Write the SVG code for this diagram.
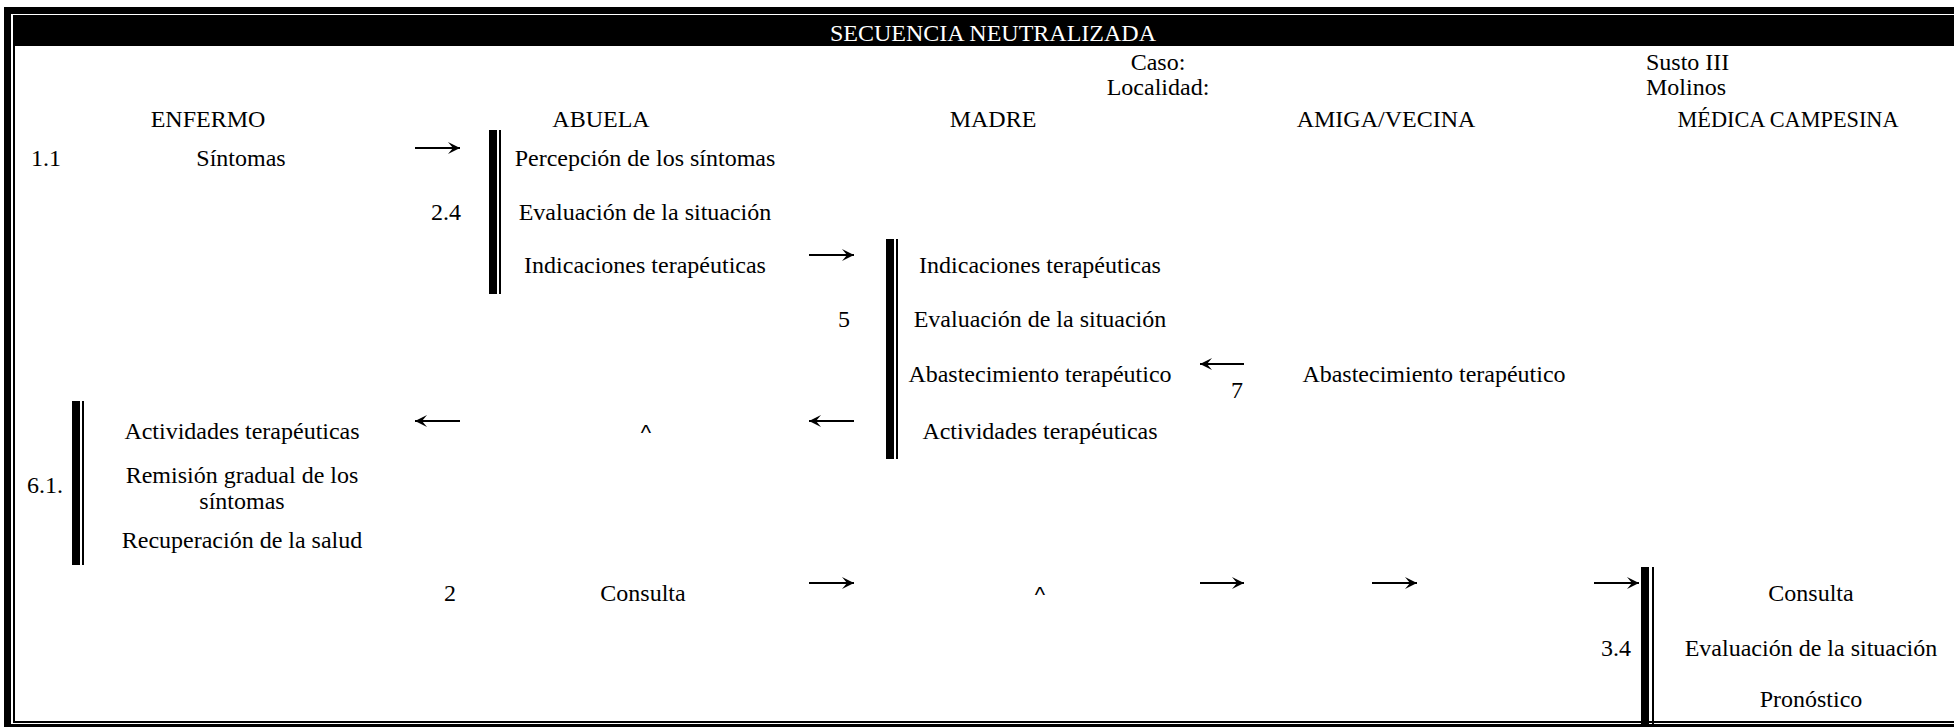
<svg xmlns="http://www.w3.org/2000/svg" width="1954" height="727" viewBox="0 0 1954 727">
<style>
text{font-family:"Liberation Serif","Times New Roman",serif;font-size:24px;fill:#000}
.c{text-anchor:middle}
.t{fill:#fff}
.caret{font-family:"Liberation Sans",Arial,sans-serif;font-size:22px}
.arr{stroke:#000;stroke-width:2;fill:none;marker-end:url(#ah)}
.bar{fill:#000}
</style>
<defs>
<marker id="ah" viewBox="0 0 14 14" refX="13" refY="7" markerWidth="14" markerHeight="14" markerUnits="userSpaceOnUse" orient="auto">
<path d="M1,1 L13,7 L1,13 L6,7 Z" fill="#000"/>
</marker>
</defs>
<g id="frame">
<rect x="7.5" y="10.5" width="1960" height="717" fill="none" stroke="#000" stroke-width="7"/>
<rect x="14" y="16" width="1960" height="706" fill="none" stroke="#000" stroke-width="2"/>
<rect x="13" y="16" width="1945" height="30" fill="#000"/>
<text class="c t" x="993" y="41">SECUENCIA NEUTRALIZADA</text>
</g>
<g id="header">
<text class="c" x="1158" y="70">Caso:</text>
<text class="c" x="1158" y="95">Localidad:</text>
<text x="1646" y="70">Susto III</text>
<text x="1646" y="95">Molinos</text>
<text class="c" x="208" y="127">ENFERMO</text>
<text class="c" x="601" y="127">ABUELA</text>
<text class="c" x="993" y="127">MADRE</text>
<text class="c" x="1386" y="127">AMIGA/VECINA</text>
<text class="c" x="1788" y="127" textLength="221" lengthAdjust="spacingAndGlyphs">MÉDICA CAMPESINA</text>
</g>
<g id="enfermo-sintomas">
<text x="31" y="166">1.1</text>
<text class="c" x="241" y="166">Síntomas</text>
</g>
<g id="abuela-block">
<rect class="bar" x="489" y="130" width="8" height="164"/>
<rect class="bar" x="499" y="130" width="2" height="164"/>
<text class="c" x="645" y="166">Percepción de los síntomas</text>
<text x="431" y="220">2.4</text>
<text class="c" x="645" y="220">Evaluación de la situación</text>
<text class="c" x="645" y="273">Indicaciones terapéuticas</text>
</g>
<g id="madre-block">
<rect class="bar" x="886" y="239" width="8" height="220"/>
<rect class="bar" x="896" y="239" width="2" height="220"/>
<text class="c" x="1040" y="273">Indicaciones terapéuticas</text>
<text x="838" y="327">5</text>
<text class="c" x="1040" y="327">Evaluación de la situación</text>
<text class="c" x="1040" y="382">Abastecimiento terapéutico</text>
<text class="c" x="1040" y="439">Actividades terapéuticas</text>
</g>
<g id="amiga-block">
<text x="1231" y="398">7</text>
<text class="c" x="1434" y="382">Abastecimiento terapéutico</text>
</g>
<g id="abuela-relay">
<text class="c caret" x="646" y="440">^</text>
</g>
<g id="enfermo-block">
<rect class="bar" x="72" y="401" width="8" height="164"/>
<rect class="bar" x="82" y="401" width="2" height="164"/>
<text class="c" x="242" y="439">Actividades terapéuticas</text>
<text x="27" y="493">6.1.</text>
<text class="c" x="242" y="483">Remisión gradual de los</text>
<text class="c" x="242" y="509">síntomas</text>
<text class="c" x="242" y="548">Recuperación de la salud</text>
</g>
<g id="abuela-consulta">
<text x="444" y="601">2</text>
<text class="c" x="643" y="601">Consulta</text>
</g>
<g id="madre-relay">
<text class="c caret" x="1040" y="602">^</text>
</g>
<g id="medica-block">
<rect class="bar" x="1641" y="567" width="8" height="160"/>
<rect class="bar" x="1652" y="567" width="2" height="160"/>
<text class="c" x="1811" y="601">Consulta</text>
<text x="1601" y="656">3.4</text>
<text class="c" x="1811" y="656">Evaluación de la situación</text>
<text class="c" x="1811" y="707">Pronóstico</text>
</g>
<g id="connectors">
<line class="arr" x1="415" y1="148" x2="460" y2="148"/>
<line class="arr" x1="809" y1="255" x2="854" y2="255"/>
<line class="arr" x1="1244" y1="364" x2="1200" y2="364"/>
<line class="arr" x1="854" y1="421" x2="809" y2="421"/>
<line class="arr" x1="460" y1="421" x2="415" y2="421"/>
<line class="arr" x1="809" y1="583" x2="854" y2="583"/>
<line class="arr" x1="1200" y1="583" x2="1244" y2="583"/>
<line class="arr" x1="1372" y1="583" x2="1417" y2="583"/>
<line class="arr" x1="1594" y1="583" x2="1639" y2="583"/>
</g>
</svg>
